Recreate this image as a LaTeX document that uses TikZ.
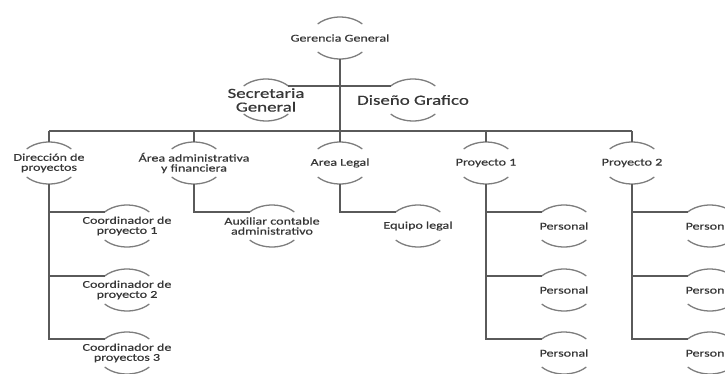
\documentclass[tikz,border=0pt]{standalone}
\usepackage{fontspec}
\setmainfont{Carlito}[FakeStretch=1.35,FakeBold=0.5]
\definecolor{txtcol}{RGB}{55,55,55}
\definecolor{lncol}{RGB}{90,90,90}
\definecolor{arccol}{RGB}{125,125,125}

\begin{document}
\begin{tikzpicture}[x=1pt,y=1pt,
	unit/.style={inner sep=0pt,align=center,text=txtcol,font=\fontsize{10.4}{10}\selectfont},
	big/.style={unit,font=\fontsize{14}{13.7}\selectfont},
	arcline/.style={draw=arccol,line width=1.3pt},
	link/.style={draw=lncol,line width=1.7pt}]
	\pgfmathsetmacro{\Rx}{30};
	\pgfmathsetmacro{\Ry}{21}
	\pgfmathsetmacro{\ang}{42}
	\useasboundingbox (0,0) rectangle (725,-373);
	\clip (0,0) rectangle (725,-373);

	% top
	\node[unit] (ger) at (340,-38) {Gerencia General};
	\node[big] (sec) at (266,-100) {Secretaria\\General};
	\node[big] (dis) at (413,-100) {Diseño Grafico};

	% second level
	\node[unit] (dir) at (49,-163) {Dirección de\\proyectos};
	\node[unit] (adm) at (194,-163) {Área administrativa\\y financiera};
	\node[unit] (leg) at (340,-163) {Area Legal};
	\node[unit] (p1) at (486,-163) {Proyecto 1};
	\node[unit] (p2) at (632,-163) {Proyecto 2};

	% third level
	\node[unit] (c1) at (127,-226) {Coordinador de\\proyecto 1};
	\node[unit] (c2) at (127,-290) {Coordinador de\\proyecto 2};
	\node[unit] (c3) at (127,-353) {Coordinador de\\proyectos 3};
	\node[unit] (aux) at (272,-226) {Auxiliar contable\\administrativo};
	\node[unit] (eq) at (418,-226) {Equipo legal};
	\foreach \i/\y in {1/226,2/290,3/353} {
		\node[unit] (pa\i) at (564,-\y) {Personal};
		\node[unit] (pb\i) at (710,-\y) {Personal};
	}

	% arcs above and below every unit
	\foreach \n in {ger,sec,dis,dir,adm,leg,p1,p2,c1,c2,c3,aux,eq,pa1,pa2,pa3,pb1,pb2,pb3} {
		\coordinate (\n-t) at ([yshift=\Ry]\n.center);
		\coordinate (\n-b) at ([yshift=-\Ry]\n.center);
		\coordinate (\n-r) at ([shift={(\ang:{\Rx} and {\Ry})}]\n.center);
		\coordinate (\n-l) at ([shift={(180-\ang:{\Rx} and {\Ry})}]\n.center);
		\draw[arcline] (\n-r) arc[start angle=\ang,end angle=180-\ang,x radius=\Rx,y radius=\Ry];
		\draw[arcline] ([shift={(180+\ang:{\Rx} and {\Ry})}]\n.center) arc[start angle=180+\ang,end angle=360-\ang,x radius=\Rx,y radius=\Ry];
	}

	% connectors
	\coordinate (bus) at (0,-131);
	\draw[link] (ger-b) -- (ger-b |- bus);
	\draw[link] (sec-r) -- (dis-l);
	\draw[link] (dir-t |- bus) -- (p2-t |- bus);
	\foreach \n in {dir,adm,leg,p1,p2}
		\draw[link] (\n-t |- bus) -- (\n-t);
	\foreach \c in {c1,c2,c3}
		\draw[link] (dir-b) |- (\c-l);
	\draw[link] (adm-b) |- (aux-l);
	\draw[link] (leg-b) |- (eq-l);
	\foreach \i in {1,2,3} {
		\draw[link] (p1-b) |- (pa\i-l);
		\draw[link] (p2-b) |- (pb\i-l);
	}
\end{tikzpicture}
\end{document}
